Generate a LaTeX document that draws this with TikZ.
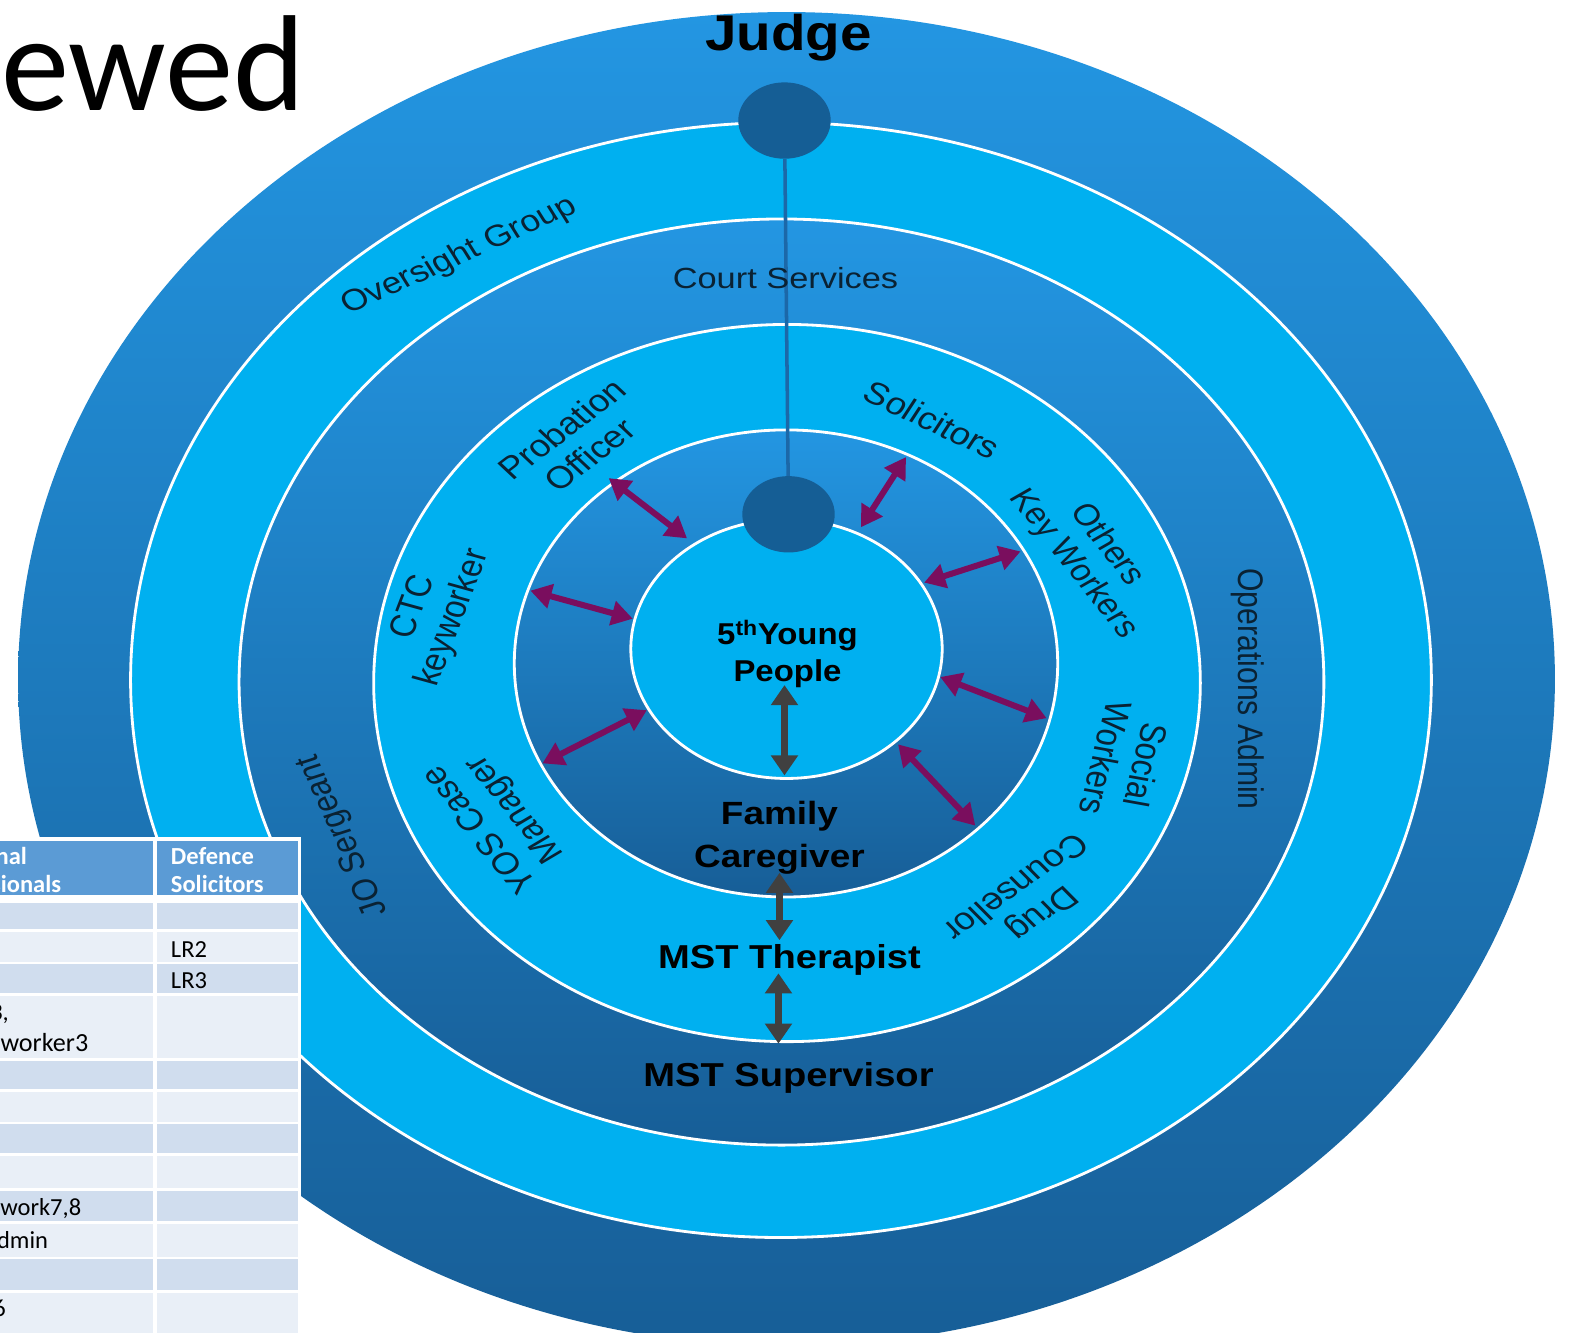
\documentclass[tikz,border=0pt]{standalone}
\usepackage{fontspec}
\setmainfont{Liberation Sans}
\newfontfamily\tablefont{Carlito}
\usetikzlibrary{arrows.meta,shapes.geometric}

\definecolor{ringcyan}{HTML}{00B0F0}
\definecolor{ringtop}{HTML}{2396E2}
\definecolor{ringbottom}{HTML}{175E97}
\definecolor{hubblue}{HTML}{155E95}
\definecolor{linkblue}{HTML}{1C68A8}
\definecolor{tiepink}{HTML}{7A0E5E}
\definecolor{chaingray}{HTML}{404040}
\definecolor{labelink}{HTML}{0A2233}
\definecolor{headblue}{HTML}{5B9BD5}
\definecolor{rowdark}{HTML}{D0DDEE}
\definecolor{rowlight}{HTML}{E9EFF7}

\tikzset{
  band/.style={ellipse, inner sep=0pt, outer sep=0pt},
  blueband/.style={band, top color=ringtop, bottom color=ringbottom},
  cyanband/.style={band, fill=ringcyan},
  rim/.style={draw=white, line width=2.8pt},
  hub/.style={ellipse, fill=hubblue, inner sep=0pt, minimum width=92pt, minimum height=76pt},
  link/.style={draw=linkblue, line width=3.5pt},
  tie/.style={tiepink, line width=6pt, {Triangle[length=21pt,width=24pt]}-{Triangle[length=21pt,width=24pt]}},
  chain/.style={chaingray, line width=7pt, {Triangle[length=20pt,width=26pt]}-{Triangle[length=20pt,width=26pt]}},
  role/.style 2 args={text=labelink, inner sep=0pt, align=center, font=\fontsize{#1}{#2}\selectfont, xscale=1.18},
  lead/.style 2 args={text=black, inner sep=0pt, align=center, font=\fontsize{#1}{#2}\selectfont\bfseries, xscale=1.15},
  cell/.style={inner sep=0pt, anchor=base west, font=\tablefont\fontsize{24.4}{28}\selectfont},
  celltail/.style={cell, anchor=base east},
  headcell/.style={text=white, font=\tablefont\bfseries\fontsize{24.4}{28}\selectfont},
}

\begin{document}
\begin{tikzpicture}[x=1pt, y=-1pt]
  \useasboundingbox[fill=white] (0,0) rectangle (1568,1327);

  % rings, outside in
  \node[blueband, minimum width=1530pt, minimum height=1328pt] (judgeband) at (783,676) {};
  \node[cyanband, rim, minimum width=1295pt, minimum height=1110pt] (oversightband) at (777.5,677) {};
  \node[blueband, rim, minimum width=1080pt, minimum height=922pt] (courtband) at (778,679) {};
  \node[cyanband, rim, minimum width=823pt, minimum height=714pt] (workerband) at (783.5,680) {};
  \node[blueband, rim, minimum width=541pt, minimum height=465pt] (familyband) at (782.5,660.5) {};
  \node[cyanband, rim, minimum width=310pt, minimum height=258pt] (youthband) at (783,646) {};

  % judge to young people
  \node[hub] (judgehub) at (781,120) {};
  \node[hub] (youthhub) at (785,512) {};
  \draw[link] (judgehub) -- (youthhub);

  % arrow ends
  \coordinate (po-out) at (606,476);  \coordinate (po-in) at (684,536);
  \coordinate (so-out) at (902,455);  \coordinate (so-in) at (857,525);
  \coordinate (ok-out) at (1016,549); \coordinate (ok-in) at (920,580);
  \coordinate (ctc-out) at (528,588); \coordinate (ctc-in) at (630,616);
  \coordinate (yos-out) at (540,760); \coordinate (yos-in) at (644,707);
  \coordinate (sw-out) at (1042,715); \coordinate (sw-in) at (936,674);
  \coordinate (dc-out) at (971,822);  \coordinate (dc-in) at (894,741);
  \coordinate (yp-low) at (781,682);  \coordinate (fc-up) at (781,772);
  \coordinate (fc-low) at (776,869);  \coordinate (mt-up) at (776,936);
  \coordinate (mt-low) at (775,969);  \coordinate (ms-up) at (775,1039);

  \draw[chain] (yp-low) -- (fc-up);
  \draw[chain] (fc-low) -- (mt-up);
  \draw[chain] (mt-low) -- (ms-up);

  \foreach \a/\b in {po-out/po-in, so-out/so-in, ok-out/ok-in, ctc-out/ctc-in,
                     yos-out/yos-in, sw-out/sw-in, dc-out/dc-in}
    \draw[tie] (\a) -- (\b);

  % people on the rings
  \node[lead={50}{56}, xscale=0.98] (judge) at (785,37) {Judge};
  \node[lead={30}{37}, xscale=0.95] (youth) at (784,651) {5\textsuperscript{th}Young\\People};
  \node[lead={32}{42}] (family) at (776,834) {Family\\Caregiver};
  \node[lead={33}{38}] (therapist) at (786,956) {MST Therapist};
  \node[lead={33}{38}] (supervisor) at (785,1073) {MST Supervisor};

  \node[role={30}{34}, rotate=28] (oversight) at (457,255) {Oversight Group};
  \node[role={29}{33}] (court) at (782,277) {Court Services};
  \node[role={30}{34}, rotate=-90] (admin) at (1242,686) {Operations Admin};
  \node[role={30}{34}, rotate=111] (sergeant) at (342,832) {JO Sergeant};

  \node[role={31}{35}, rotate=42] (probation) at (573,440) {Probation\\Officer};
  \node[role={31}{35}, rotate=-29] (solicitors) at (928,418) {Solicitors};
  \node[role={30}{34}, rotate=-56] (others) at (1085,552) {Others\\Key Workers};
  \node[role={31}{35}, rotate=-102] (social) at (1121,758) {Social\\Workers};
  \node[role={31}{35}, rotate=-140] (drug) at (1025,897) {Drug\\Counsellor};
  \node[role={31}{35}, rotate=125] (yos) at (496,815) {YOS Case\\Manager};
  \node[role={31}{35}, rotate=72] (ctc) at (432,610) {CTC\\keyworker};

  % table in the corner
  \fill[white] (-2,833) rectangle (300,1327);
  \fill[headblue] (-2,837) rectangle (152,891);
  \fill[headblue] (156,837) rectangle (297,891);
  \foreach \top/\bot/\shade in {899/925/rowdark, 928/958/rowlight, 960/989/rowdark,
      992/1053/rowlight, 1056/1084/rowdark, 1087/1117/rowlight, 1119/1148/rowdark,
      1151/1183/rowlight, 1186/1216/rowdark, 1219/1251/rowlight, 1253/1284/rowdark,
      1287/1330/rowlight} {
    \fill[\shade] (-2,\top) rectangle (152,\bot);
    \fill[\shade] (156,\top) rectangle (297,\bot);
  }
  \node[celltail, headcell] (head-a) at (27,861) {nal};
  \node[celltail, headcell] (head-b) at (61,889) {sionals};
  \node[cell, headcell] (head-c) at (170,861) {Defence};
  \node[cell, headcell] (head-d) at (170,889) {Solicitors};
  \node[cell] (lr-two) at (170,953) {LR2};
  \node[cell] (lr-three) at (170,984) {LR3};
  \node[celltail] (row-a) at (9,1016) {3,};
  \node[celltail, font=\tablefont\fontsize{26}{28}\selectfont] (row-b) at (88,1047) {worker3};
  \node[celltail] (row-c) at (81,1210) {work7,8};
  \node[celltail] (row-d) at (48,1243) {dmin};
  \node[celltail] (row-e) at (6,1311) {6};

  % cut-off title
  \node[inner sep=0pt, anchor=base west, font=\tablefont\fontsize{136}{140}\selectfont] (title) at (1,110) {ewed};
\end{tikzpicture}
\end{document}
